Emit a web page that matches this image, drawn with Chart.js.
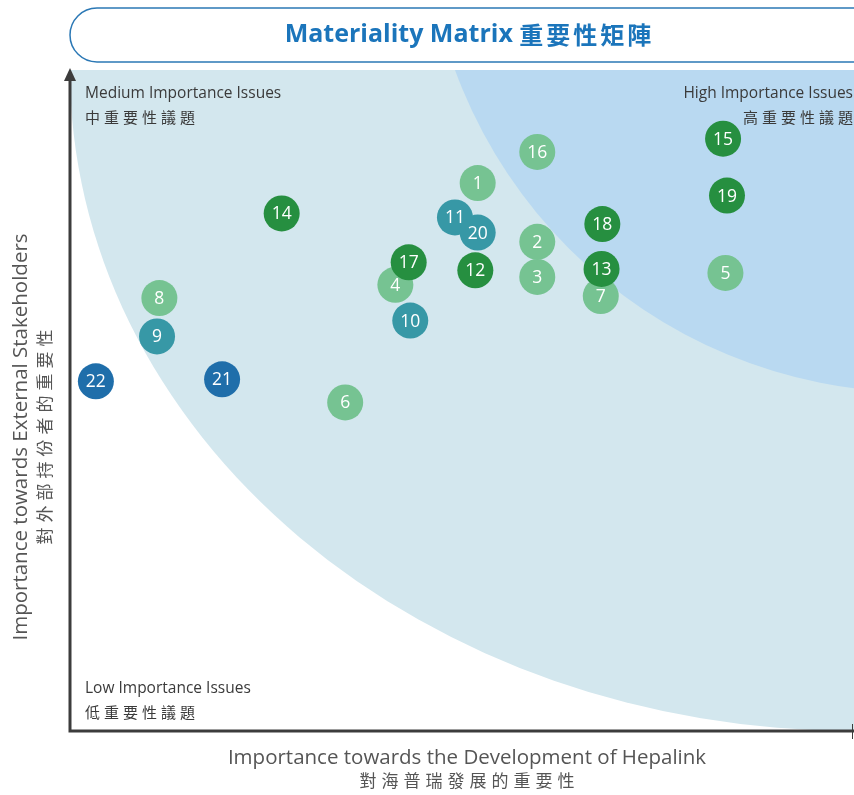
<!DOCTYPE html>
<html lang="zh-TW">
<head>
    <meta charset="UTF-8">
    <title>Materiality Matrix 重要性矩陣</title>
    <script src="https://cdn.jsdelivr.net/npm/chart.js"></script>
    <style>
        html, body { margin: 0; padding: 0; background: #fff; }
        #wrap { width: 854px; height: 795px; }
    </style>
</head>
<body>
    <div id="wrap"><canvas id="matrix" width="854" height="795"></canvas></div>

    <script>
        // 議題編號及位置 (0-100)
        const issueNo = [1, 2, 3, 4, 5, 6, 7, 8, 9, 10, 11, 12, 13, 14, 15, 16, 17, 18, 19, 20, 21, 22];
        const devImportance = [52.0, 59.6, 59.6, 41.5, 83.6, 35.1, 67.7, 11.4, 11.1, 43.4, 49.1, 51.7, 67.8, 27.0, 83.3, 59.6, 43.2, 67.9, 83.8, 52.0, 19.4, 3.3];
        const extImportance = [82.9, 74.0, 68.7, 67.5, 69.3, 49.7, 65.8, 65.5, 59.7, 62.1, 77.7, 69.7, 69.9, 78.3, 89.6, 87.6, 70.9, 76.7, 81.0, 75.4, 53.2, 52.9];
        const issueGroup = ['light', 'light', 'light', 'light', 'light', 'light', 'light', 'light', 'teal', 'teal',
                            'teal', 'dark', 'dark', 'dark', 'dark', 'light', 'dark', 'dark', 'dark', 'teal', 'blue', 'blue'];

        // 第一個數據集畫在最上面
        const groupOrder = ['dark', 'teal', 'blue', 'light'];
        const groupColor = { light: '#76c392', dark: '#268f40', teal: '#3798a6', blue: '#1f6eaa' };

        const titleText = 'Materiality Matrix';
        const titleTextZh = '重要性矩陣';
        const xTitle = 'Importance towards the Development of Hepalink';
        const xTitleZh = '對海普瑞發展的重要性';
        const yTitle = 'Importance towards External Stakeholders';
        const yTitleZh = '對外部持份者的重要性';

        const datasets = groupOrder.map(g => ({
            label: g,
            data: issueNo.map((n, i) => ({ x: devImportance[i], y: extImportance[i], id: n }))
                         .filter((p, i) => issueGroup[i] === g),
            backgroundColor: groupColor[g],
            borderWidth: 0,
            pointRadius: 18,
            pointHoverRadius: 18
        }));

        // 逐字繪製 (加字距)
        function spaced(ctx, text, x, y, gap, align) {
            const chars = Array.from(text);
            const widths = chars.map(c => ctx.measureText(c).width);
            const total = widths.reduce((a, b) => a + b, 0) + gap * (chars.length - 1);
            let cx = align === 'center' ? x - total / 2 : align === 'right' ? x - total : x;
            ctx.textAlign = 'left';
            chars.forEach((c, i) => { ctx.fillText(c, cx, y); cx += widths[i] + gap; });
            return total;
        }

        const backdrop = {
            id: 'backdrop',
            beforeDatasetsDraw(chart) {
                const { ctx, chartArea: a, scales: { x, y } } = chart;
                ctx.save();
                ctx.beginPath();
                ctx.rect(a.left, a.top, a.right - a.left, a.bottom - a.top);
                ctx.clip();
                // 中重要性區域
                const cx = x.getPixelForValue(100), cy = y.getPixelForValue(100);
                ctx.fillStyle = '#d3e7ee';
                ctx.beginPath();
                ctx.ellipse(cx, cy, cx - x.getPixelForValue(0), y.getPixelForValue(0) - cy, 0, 0, Math.PI * 2);
                ctx.fill();
                // 高重要性區域
                ctx.fillStyle = '#b9d9f1';
                ctx.beginPath();
                ctx.arc(x.getPixelForValue(107.9), y.getPixelForValue(125.5), (a.right - a.left) * 0.626, 0, Math.PI * 2);
                ctx.fill();
                ctx.restore();
            },
            afterDatasetDraw(chart, args) {
                const { ctx } = chart;
                const ds = chart.data.datasets[args.index];
                ctx.save();
                ctx.fillStyle = '#ffffff';
                ctx.font = '17.5px "Open Sans"';
                ctx.textAlign = 'center';
                ctx.textBaseline = 'middle';
                args.meta.data.forEach((pt, i) => {
                    ctx.fillText(String(ds.data[i].id), pt.x, pt.y + 1);
                });
                ctx.restore();
            },
            afterDraw(chart) {
                const { ctx, chartArea: a } = chart;
                ctx.save();

                // 標題框
                ctx.strokeStyle = '#2b78b5';
                ctx.lineWidth = 1.5;
                ctx.beginPath();
                ctx.roundRect(70, 8, 820, 54, 27);
                ctx.stroke();
                ctx.fillStyle = '#1b75bb';
                ctx.textBaseline = 'middle';
                ctx.font = 'bold 25px "Open Sans"';
                const w1 = ctx.measureText(titleText + ' ').width;
                ctx.font = 'bold 24px "Noto Sans CJK TC"';
                const chW = Array.from(titleTextZh).reduce((s, c) => s + ctx.measureText(c).width, 0) + 3 * 4;
                const startX = 468 - (w1 + chW) / 2;
                ctx.font = 'bold 25px "Open Sans"';
                ctx.textAlign = 'left';
                ctx.fillText(titleText, startX, 35);
                ctx.font = 'bold 24px "Noto Sans CJK TC"';
                spaced(ctx, titleTextZh, startX + w1, 35, 3, 'left');

                // 坐標軸
                ctx.strokeStyle = '#3c3c3c';
                ctx.fillStyle = '#3c3c3c';
                ctx.lineWidth = 3;
                ctx.beginPath();
                ctx.moveTo(a.left, a.bottom + 1.5);
                ctx.lineTo(a.left, a.top + 8);
                ctx.moveTo(a.left - 1.5, a.bottom);
                ctx.lineTo(a.right, a.bottom);
                ctx.stroke();
                ctx.beginPath();
                ctx.moveTo(a.left, a.top - 2);
                ctx.lineTo(a.left - 6, a.top + 11);
                ctx.lineTo(a.left + 6, a.top + 11);
                ctx.closePath();
                ctx.fill();
                ctx.lineWidth = 1;
                ctx.beginPath();
                ctx.moveTo(a.right - 1.5, a.bottom - 7);
                ctx.lineTo(a.right - 1.5, a.bottom + 8);
                ctx.stroke();

                // 區域標籤
                ctx.fillStyle = '#3a3a3a';
                ctx.textBaseline = 'middle';
                ctx.font = '15.5px "Open Sans"';
                ctx.textAlign = 'left';
                ctx.fillText('Medium Importance Issues', 85, 94);
                ctx.fillText('Low Importance Issues', 85, 689);
                ctx.textAlign = 'right';
                ctx.fillText('High Importance Issues', 853, 94);
                ctx.font = '15px "Noto Sans CJK TC"';
                spaced(ctx, '中重要性議題', 85, 117, 4, 'left');
                spaced(ctx, '低重要性議題', 85, 712, 4, 'left');
                spaced(ctx, '高重要性議題', 853, 117, 4, 'right');

                // 坐標軸標題
                ctx.fillStyle = '#555555';
                ctx.font = '20.5px "Open Sans"';
                ctx.textAlign = 'center';
                ctx.fillText(xTitle, 467, 758);
                ctx.font = '17px "Noto Sans CJK TC"';
                spaced(ctx, xTitleZh, 467, 781, 5, 'center');

                ctx.save();
                ctx.translate(21, 437);
                ctx.rotate(-Math.PI / 2);
                ctx.font = '20.5px "Open Sans"';
                ctx.textAlign = 'center';
                ctx.fillText(yTitle, 0, 0);
                ctx.font = '17px "Noto Sans CJK TC"';
                spaced(ctx, yTitleZh, 0, 24, 5, 'center');
                ctx.restore();

                ctx.restore();
            }
        };

        new Chart(document.getElementById('matrix').getContext('2d'), {
            type: 'scatter',
            data: { datasets: datasets },
            options: {
                responsive: false,
                animation: false,
                layout: { autoPadding: false, padding: { left: 70, right: 0, top: 70, bottom: 64 } },
                scales: {
                    x: { display: false, min: 0, max: 100 },
                    y: { display: false, min: 0, max: 100 }
                },
                plugins: {
                    legend: { display: false },
                    tooltip: { enabled: false }
                }
            },
            plugins: [backdrop]
        });
    </script>
</body>
</html>
